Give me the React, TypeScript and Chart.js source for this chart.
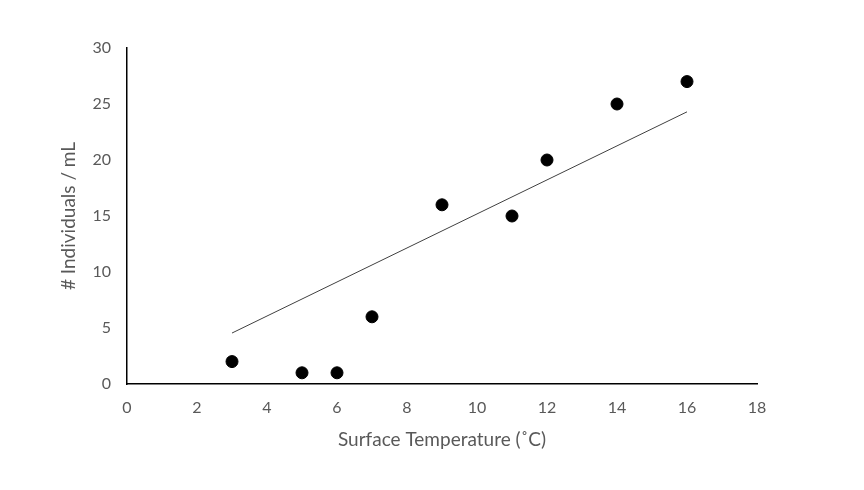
import React, { useEffect, useRef } from "react";
import { Chart, registerables } from "chart.js";

Chart.register(...registerables);

const tempX = [3, 5, 6, 7, 9, 11, 12, 14, 16];
const individualsY = [2, 1, 1, 6, 16, 15, 20, 25, 27];
const trendX = [3, 16];
const trendY = [4.55, 24.3];
const xTicks = [0, 2, 4, 6, 8, 10, 12, 14, 16, 18];
const yTicks = [0, 5, 10, 15, 20, 25, 30];

const FONT = "Lato, 'Open Sans', sans-serif";
const GREY = "#595959";

export default function App() {
  const ref = useRef<HTMLCanvasElement>(null);
  useEffect(() => {
    if (!ref.current) return;
    const chart = new Chart(ref.current, {
      type: "scatter",
      data: {
        datasets: [
          {
            type: "line",
            data: trendX.map((x, i) => ({ x, y: trendY[i] })),
            borderColor: "#404040",
            borderWidth: 1,
            pointRadius: 0,
            fill: false,
          } as any,
          {
            data: tempX.map((x, i) => ({ x, y: individualsY[i] })),
            backgroundColor: "#000",
            borderColor: "#000",
            pointRadius: 6,
          },
        ],
      },
      options: {
        animation: false,
        responsive: false,
        plugins: { legend: { display: false }, tooltip: { enabled: false } },
        layout: { padding: { top: 48, left: 0, right: 107, bottom: 0 } },
        scales: {
          x: {
            type: "linear",
            min: 0,
            max: 18,
            afterBuildTicks: (s: any) => {
              s.ticks = xTicks.map((v) => ({ value: v }));
            },
            afterFit: (s: any) => {
              s.height = 106;
            },
            grid: { color: "transparent", drawTicks: false },
            border: { display: true, color: "#000", width: 1.5 },
            ticks: { color: GREY, font: { family: FONT, size: 16 }, padding: 14 },
            title: {
              display: true,
              text: "Surface Temperature (˚C)",
              color: GREY,
              font: { family: FONT, size: 19 },
              padding: { top: 0, bottom: 39 },
            },
          },
          y: {
            type: "linear",
            min: 0,
            max: 30,
            afterBuildTicks: (s: any) => {
              s.ticks = yTicks.map((v) => ({ value: v }));
            },
            afterFit: (s: any) => {
              s.width = 127;
            },
            grid: { color: "transparent", drawTicks: false },
            border: { display: true, color: "#000", width: 1.5 },
            ticks: { color: GREY, font: { family: FONT, size: 16 }, padding: 16 },
            title: {
              display: true,
              text: "# Individuals / mL",
              color: GREY,
              font: { family: FONT, size: 19 },
              padding: { top: 57, bottom: 0 },
            },
          },
        },
      },
    });
    return () => chart.destroy();
  }, []);
  return (
    <div style={{ position: "fixed", left: 0, top: 0, width: 864, height: 490, background: "#fff" }}>
      <canvas ref={ref} width={864} height={490} />
    </div>
  );
}
